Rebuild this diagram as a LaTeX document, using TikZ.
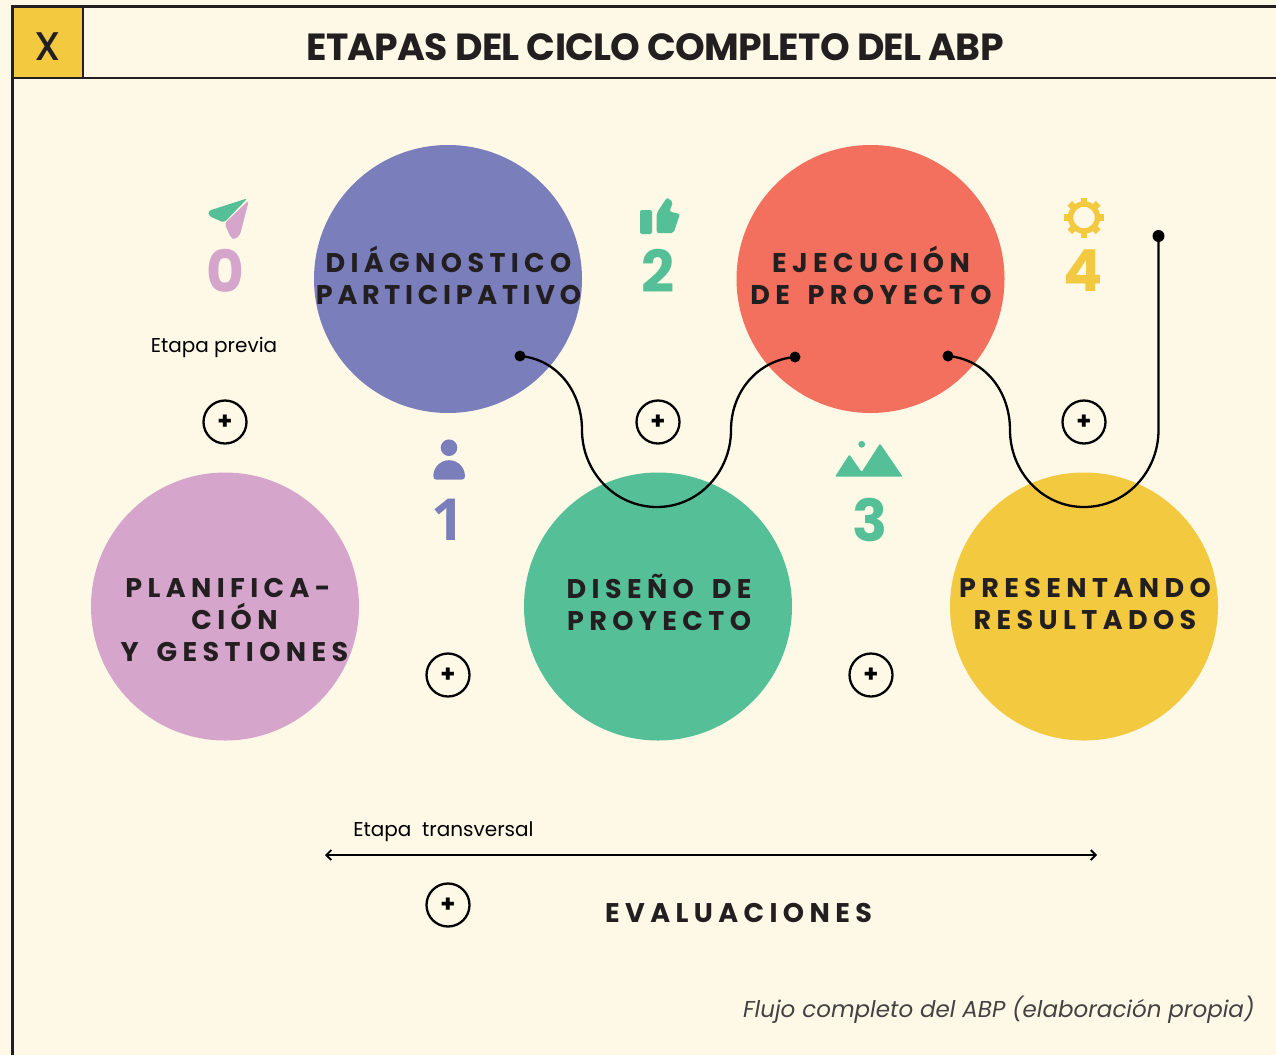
\documentclass[tikz,border=0pt]{standalone}
\usepackage{fontspec}
\setmainfont{Poppins}
\newfontfamily\onefont{Open Sans}
\newfontfamily\medfont{Poppins}[UprightFont=* Medium]
\newfontfamily\stagefont{Poppins}[LetterSpace=20,WordSpace=1.6]
\usepackage{tikz}
\usetikzlibrary{arrows.meta}
\definecolor{paper}{HTML}{FEF9E7}
\definecolor{ink}{HTML}{231F20}
\definecolor{lilac}{HTML}{D6A5CC}
\definecolor{indigo}{HTML}{7A7FBC}
\definecolor{mint}{HTML}{55C098}
\definecolor{coral}{HTML}{F4705E}
\definecolor{sun}{HTML}{F3C93F}
\begin{document}
\begin{tikzpicture}[x=1pt,y=-1pt]
\tikzset{stage/.style={circle,inner sep=0pt,minimum size=268pt},
  stagetext/.style={align=center,text=ink,font=\fontsize{27}{32}\stagefont\bfseries},
  numeral/.style={font=\fontsize{58}{58}\selectfont\bfseries},
  plain/.style={text=black,font=\fontsize{20}{24}\selectfont},
  plusbtn/.style={circle,draw=black,line width=2.3pt,fill=paper,minimum size=43pt,inner sep=0pt,font=\fontsize{24}{24}\selectfont\bfseries},
  dot/.style={circle,fill=black,minimum size=11pt,inner sep=0pt},
  route/.style={line width=2.3pt,draw=black}}
\useasboundingbox (0,0) rectangle (1276,1055);
\fill[paper] (0,0) rectangle (1276,1055);
% header
\fill[sun] (13,7) rectangle (83,78);
\draw[ink,line width=2.8pt] (12.5,1055) -- (12.5,6.5) -- (1276,6.5);
\draw[ink,line width=2.6pt] (12.5,78) -- (1276,78);
\draw[ink,line width=1.4pt] (83,7) -- (83,78);
\node[text=ink,font=\fontsize{40}{40}\medfont] (mark) at (48,47) {X};
\node[text=ink,font=\fontsize{37.8}{38}\selectfont\bfseries\addfontfeatures{LetterSpace=-2}] (title) at (655,47) {ETAPAS DEL CICLO COMPLETO DEL ABP};
% circles
\node[stage,fill=lilac] (plan) at (225,606.5) {};
\node[stage,fill=indigo] (diag) at (448,279) {};
\node[stage,fill=mint] (dise) at (658,606.5) {};
\node[stage,fill=coral] (ejec) at (870.5,279) {};
\node[stage,fill=sun] (pres) at (1084,606.5) {};
\node[stagetext] (plantext) at (234.5,620) {PLANIFICA-\hspace*{13pt}\\CIÓN\hspace*{17pt}\\Y GESTIONES};
\node[stagetext] (diagtext) at (448.5,275) {DIÁGNOSTICO\\{\addfontfeatures{LetterSpace=17.5}PARTICIPATIVO}};
\node[stagetext] (disetext) at (659,602) {DISEÑO DE\\PROYECTO};
\node[stagetext] (ejectext) at (871,275) {EJECUCIÓN\\DE PROYECTO};
\node[stagetext] (prestext) at (1085,604) {PRESENTANDO\\RESULTADOS};
% numbers
\node[numeral,text=lilac] (n0) at (225,271) {0};
\node[numeral,text=indigo] (n1) at (448,520) {\onefont 1};
\node[numeral,text=mint] (n2) at (658,271) {2};
\node[numeral,text=mint] (n3) at (870,520) {3};
\node[numeral,text=sun] (n4) at (1083,271) {4};
% icons
\fill[mint,rounded corners=3pt] (247.5,198.3) -- (208,211) -- (209,216) -- (224,222.7) -- cycle;
\fill[lilac,rounded corners=3pt] (249,200) -- (224.5,223.5) -- (231,238) -- (235,239.5) -- (240,235) -- cycle;
\fill[mint,rounded corners=2pt] (640,210) rectangle (652,234);
\fill[mint,rounded corners=2pt] (656.7,233) -- (656.7,213) -- (667,197.5) -- (673,202) -- (669.5,211.5) -- (680,214) -- (673.5,233) -- cycle;
\fill[indigo] (449,447.7) circle[radius=8.3];
\fill[indigo] (433.3,476) arc[start angle=180,end angle=360,radius=15.8] -- (465,476) .. controls (465,478.5) and (464,479.5) .. (462,479.5) -- (436,479.5) .. controls (434.5,479.5) and (433.3,478.5) .. (433.3,476) -- cycle;
\fill[mint,rounded corners=1pt] (835,476.7) -- (849.3,454.5) -- (861.7,472) -- (880,443.5) -- (902.7,476.7) -- cycle;
\fill[mint] (861.7,444.3) circle[radius=3.4];
\draw[sun,line width=5.5pt] (1084,217.5) circle[radius=13.5];
\foreach \i in {0,...,7}
{
    \draw[sun,line width=6.5pt] (1084,217.5) ++({45*\i}:14) -- ++({45*\i}:6);
}
% routes
\node[dot] (a1) at (520,356) {};
\node[dot] (a2) at (795,357) {};
\node[dot] (b1) at (948,356) {};
\node[dot,minimum size=12pt] (b2) at (1158.5,236) {};
\coordinate (a3) at (582,430);
\coordinate (a4) at (657,507);
\coordinate (a5) at (731,430);
\coordinate (b3) at (1010,430);
\coordinate (b4) at (1084,507);
\coordinate (b5) at (1158.5,430);
\draw[route] (a1.center) to[out=-5,in=90] (a3) to[out=-90,in=180] (a4) to[out=0,in=-90] (a5) to[out=90,in=185] (a2.center);
\draw[route] (b1.center) to[out=-5,in=90] (b3) to[out=-90,in=180] (b4) to[out=0,in=-90] (b5) -- (b2.center);
% plus buttons
\foreach \n/\x/\y in {p0/225/422,p1/448/675,p2/658/422,p3/871/675,p4/1084/422,p5/448/905}
{
    \node[plusbtn] (\n) at (\x,\y) {+};
}
% bottom
\node[plain] (previa) at (214,347) {Etapa previa};
\node[plain] (transv) at (443.5,832) {Etapa\ \ transversal};
\coordinate (arrowl) at (325,855);
\coordinate (arrowr) at (1097,855);
\draw[line width=1.8pt,black,{Straight Barb[length=5pt,width=10pt]}-{Straight Barb[length=5pt,width=10pt]}] (arrowl) -- (arrowr);
\node[stagetext] (eval) at (738.5,913) {EVALUACIONES};
\node[text=ink!85,font=\fontsize{23}{28}\selectfont\itshape,anchor=east] (source) at (1258,1010) {Flujo completo del ABP (elaboración propia)};
\end{tikzpicture}
\end{document}
